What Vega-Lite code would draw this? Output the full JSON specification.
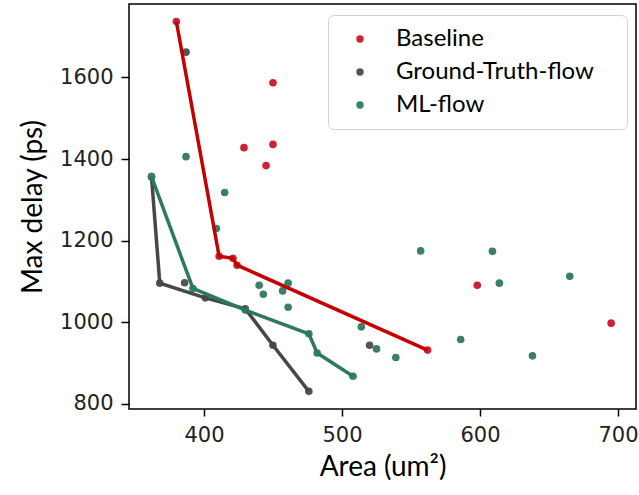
{
  "$schema": "https://vega.github.io/schema/vega-lite/v6.json",
  "width": 507,
  "height": 405,
  "autosize": {"type": "none"},
  "padding": {"left": 129, "top": 4, "right": 3, "bottom": 86},
  "background": "white",
  "config": {"view": {"stroke": "#000", "strokeWidth": 1.5}, "font": "Lato"},
  "data": {
    "values": [
      {"series": "Baseline", "area": 380, "delay": 1737, "front": true},
      {"series": "Baseline", "area": 411, "delay": 1162, "front": true},
      {"series": "Baseline", "area": 421, "delay": 1157, "front": true},
      {"series": "Baseline", "area": 424, "delay": 1140, "front": true},
      {"series": "Baseline", "area": 562, "delay": 932, "front": true},
      {"series": "Baseline", "area": 450, "delay": 1587, "front": false},
      {"series": "Baseline", "area": 429, "delay": 1428, "front": false},
      {"series": "Baseline", "area": 450, "delay": 1436, "front": false},
      {"series": "Baseline", "area": 445, "delay": 1384, "front": false},
      {"series": "Baseline", "area": 598, "delay": 1091, "front": false},
      {"series": "Baseline", "area": 695, "delay": 998, "front": false},
      {"series": "Ground-Truth-flow", "area": 362, "delay": 1357, "front": true},
      {"series": "Ground-Truth-flow", "area": 368, "delay": 1096, "front": true},
      {"series": "Ground-Truth-flow", "area": 401, "delay": 1060, "front": true},
      {"series": "Ground-Truth-flow", "area": 430, "delay": 1033, "front": true},
      {"series": "Ground-Truth-flow", "area": 450, "delay": 944, "front": true},
      {"series": "Ground-Truth-flow", "area": 476, "delay": 831, "front": true},
      {"series": "Ground-Truth-flow", "area": 387, "delay": 1662, "front": false},
      {"series": "Ground-Truth-flow", "area": 386, "delay": 1097, "front": false},
      {"series": "Ground-Truth-flow", "area": 520, "delay": 944, "front": false},
      {"series": "ML-flow", "area": 362, "delay": 1357, "front": true},
      {"series": "ML-flow", "area": 392, "delay": 1083, "front": true},
      {"series": "ML-flow", "area": 430, "delay": 1030, "front": true},
      {"series": "ML-flow", "area": 476, "delay": 972, "front": true},
      {"series": "ML-flow", "area": 482, "delay": 925, "front": true},
      {"series": "ML-flow", "area": 508, "delay": 868, "front": true},
      {"series": "ML-flow", "area": 387, "delay": 1406, "front": false},
      {"series": "ML-flow", "area": 415, "delay": 1318, "front": false},
      {"series": "ML-flow", "area": 409, "delay": 1230, "front": false},
      {"series": "ML-flow", "area": 440, "delay": 1091, "front": false},
      {"series": "ML-flow", "area": 443, "delay": 1069, "front": false},
      {"series": "ML-flow", "area": 461, "delay": 1096, "front": false},
      {"series": "ML-flow", "area": 457, "delay": 1077, "front": false},
      {"series": "ML-flow", "area": 461, "delay": 1037, "front": false},
      {"series": "ML-flow", "area": 514, "delay": 989, "front": false},
      {"series": "ML-flow", "area": 525, "delay": 935, "front": false},
      {"series": "ML-flow", "area": 539, "delay": 914, "front": false},
      {"series": "ML-flow", "area": 557, "delay": 1175, "front": false},
      {"series": "ML-flow", "area": 609, "delay": 1174, "front": false},
      {"series": "ML-flow", "area": 614, "delay": 1096, "front": false},
      {"series": "ML-flow", "area": 665, "delay": 1113, "front": false},
      {"series": "ML-flow", "area": 586, "delay": 958, "front": false},
      {"series": "ML-flow", "area": 638, "delay": 918, "front": false}
    ]
  },
  "encoding": {
    "x": {
      "field": "area",
      "type": "quantitative",
      "scale": {"domain": [345.7, 713], "nice": false, "zero": false},
      "axis": {
        "values": [400, 500, 600, 700],
        "format": "d",
        "title": "Area (um²)",
        "grid": false,
        "domain": false,
        "tickColor": "#000",
        "tickSize": 7,
        "tickWidth": 1.5,
        "labelFont": "DejaVu Sans",
        "labelFontSize": 21,
        "labelColor": "#222",
        "labelPadding": 8,
        "titleFont": "Lato",
        "titleFontSize": 28,
        "titleFontWeight": "normal",
        "titleColor": "#000",
        "titlePadding": 8
      }
    },
    "y": {
      "field": "delay",
      "type": "quantitative",
      "scale": {"domain": [787.7, 1780], "nice": false, "zero": false},
      "axis": {
        "values": [800, 1000, 1200, 1400, 1600],
        "format": "d",
        "title": "Max delay (ps)",
        "grid": false,
        "domain": false,
        "tickColor": "#000",
        "tickSize": 8,
        "tickWidth": 1.5,
        "labelFont": "DejaVu Sans",
        "labelFontSize": 21,
        "labelColor": "#222",
        "labelPadding": 8,
        "titleFont": "Lato",
        "titleFontSize": 28,
        "titleFontWeight": "normal",
        "titleColor": "#000",
        "titlePadding": 12
      }
    }
  },
  "layer": [
    {
      "mark": {"type": "circle", "size": 58, "opacity": 1},
      "encoding": {
        "color": {
          "field": "series",
          "type": "nominal",
          "scale": {
            "domain": ["Baseline", "Ground-Truth-flow", "ML-flow"],
            "range": ["#cf2230", "#545454", "#3a7f68"]
          },
          "legend": {
            "title": null,
            "orient": "none",
            "legendX": 199,
            "legendY": 11,
            "padding": 12,
            "strokeColor": "#d0d0d0",
            "cornerRadius": 6,
            "fillColor": "#ffffff",
            "labelFont": "Lato",
            "labelFontSize": 24,
            "labelColor": "#000",
            "labelLimit": 400,
            "symbolType": "circle",
            "symbolSize": 55,
            "symbolStrokeWidth": 0,
            "symbolOffset": 8,
            "labelOffset": 24,
            "rowPadding": 9,
            "labelExpr": "datum.label + '\u2009\u2800'"
          }
        }
      }
    },
    {
      "transform": [{"filter": "datum.front"}],
      "mark": {"type": "line", "strokeWidth": 3.5},
      "encoding": {
        "color": {
          "field": "series",
          "type": "nominal",
          "scale": {
            "domain": ["Baseline", "Ground-Truth-flow", "ML-flow"],
            "range": ["#c40000", "#474747", "#2b7a5f"]
          },
          "legend": null
        }
      }
    }
  ],
  "resolve": {"scale": {"color": "independent"}}
}
